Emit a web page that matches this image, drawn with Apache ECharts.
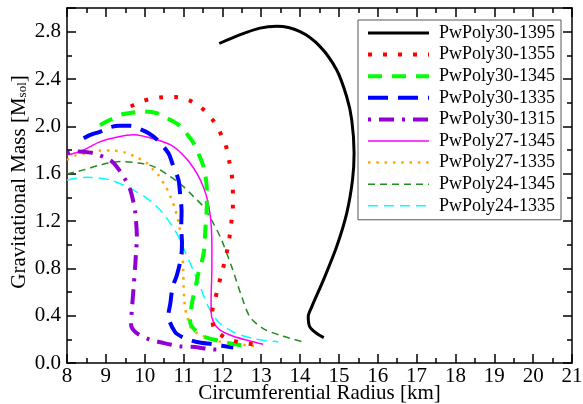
<!DOCTYPE html>
<html>
<head>
<meta charset="utf-8">
<script src="https://cdn.jsdelivr.net/npm/echarts@6/dist/echarts.min.js"></script>
<style>html,body{margin:0;padding:0;background:#fff}#c{width:583px;height:404px}</style>
</head>
<body>
<div id="c"></div>
<script>
const seriesNames = ['PwPoly30-1395','PwPoly30-1355','PwPoly30-1345','PwPoly30-1335','PwPoly30-1315','PwPoly27-1345','PwPoly27-1335','PwPoly24-1345','PwPoly24-1335'];
const xTicks = [8,9,10,11,12,13,14,15,16,17,18,19,20,21];
const yTicks = [0.0,0.4,0.8,1.2,1.6,2.0,2.4,2.8];

const pw30_1395 = [[11.92,2.70],[12.46,2.775],[12.97,2.83],[13.40,2.845],[14.0,2.80],[14.51,2.676],[14.94,2.478],[15.20,2.25],[15.33,2.055],[15.39,1.773],[15.35,1.547],[15.20,1.265],[14.94,0.982],[14.60,0.70],[14.30,0.474],[14.21,0.39],[14.25,0.305],[14.43,0.249],[14.61,0.215]];
const pw30_1355 = [[9.64,2.168],[9.99,2.218],[10.39,2.244],[10.78,2.247],[11.16,2.218],[11.49,2.148],[11.75,2.055],[11.95,1.942],[12.10,1.824],[12.18,1.70],[12.25,1.57],[12.27,1.443],[12.27,1.313],[12.23,1.186],[12.18,1.058],[12.11,0.931],[12.02,0.804],[11.92,0.681],[11.83,0.559],[11.74,0.43],[11.77,0.305],[12.04,0.22],[12.41,0.178],[12.80,0.157]];
const pw30_1345 = [[8.85,2.01],[9.11,2.055],[9.37,2.097],[9.71,2.117],[9.97,2.125],[10.31,2.112],[10.57,2.07],[10.87,2.013],[11.04,1.956],[11.26,1.858],[11.38,1.773],[11.53,1.64],[11.60,1.46],[11.60,1.32],[11.57,1.18],[11.55,1.053],[11.53,0.954],[11.47,0.855],[11.38,0.757],[11.32,0.658],[11.25,0.559],[11.19,0.446],[11.17,0.347],[11.30,0.277],[11.55,0.22],[11.86,0.192],[12.15,0.169],[12.5,0.15]];
const pw30_1335 = [[8.43,1.90],[8.60,1.928],[8.86,1.956],[9.11,1.993],[9.35,2.004],[9.63,2.004],[9.88,1.976],[10.10,1.942],[10.31,1.89],[10.61,1.773],[10.71,1.688],[10.87,1.547],[10.91,1.434],[10.95,1.279],[10.94,1.15],[10.96,1.011],[10.94,0.90],[10.83,0.743],[10.72,0.643],[10.66,0.503],[10.61,0.404],[10.78,0.262],[11.0,0.215],[11.34,0.178],[11.77,0.158],[12.28,0.13]];
const pw30_1315 = [[8.0,1.773],[8.26,1.787],[8.56,1.78],[8.81,1.759],[9.16,1.702],[9.34,1.632],[9.50,1.55],[9.63,1.462],[9.71,1.358],[9.76,1.265],[9.80,1.053],[9.78,0.95],[9.76,0.842],[9.71,0.616],[9.67,0.45],[9.65,0.33],[9.76,0.262],[10.12,0.198],[10.40,0.175],[10.91,0.141],[11.30,0.135],[11.69,0.116],[11.96,0.113]];
const pw27_1345 = [[8.0,1.759],[8.34,1.787],[8.86,1.871],[9.3,1.91],[9.71,1.928],[10.31,1.886],[10.74,1.829],[11.17,1.688],[11.51,1.49],[11.68,1.265],[11.73,0.982],[11.73,0.813],[11.71,0.531],[11.71,0.432],[11.77,0.347],[11.94,0.277],[12.28,0.226],[12.71,0.186],[13.05,0.158]];
const pw27_1335 = [[8.0,1.716],[8.21,1.753],[8.56,1.778],[8.86,1.795],[9.20,1.795],[9.50,1.778],[9.80,1.736],[10.06,1.688],[10.21,1.637],[10.37,1.581],[10.50,1.511],[10.61,1.448],[10.70,1.378],[10.78,1.304],[10.84,1.231],[10.89,1.158],[10.93,1.075],[10.96,1.003],[10.99,0.80],[11.0,0.672],[11.02,0.531],[11.04,0.46],[11.10,0.39],[11.15,0.319],[11.34,0.254],[11.86,0.186],[12.24,0.169],[12.61,0.15],[12.85,0.143]];
const pw24_1345 = [[8.0,1.598],[8.43,1.632],[8.86,1.674],[9.37,1.702],[9.88,1.688],[10.23,1.66],[10.66,1.575],[11.0,1.49],[11.26,1.406],[11.51,1.321],[11.77,1.18],[11.98,1.039],[12.24,0.813],[12.50,0.559],[12.71,0.39],[13.05,0.291],[13.57,0.226],[14.08,0.178]];
const pw24_1335 = [[8.0,1.547],[8.51,1.57],[9.11,1.547],[9.54,1.49],[10.06,1.392],[10.40,1.293],[10.66,1.18],[10.87,1.067],[11.0,0.969],[11.21,0.813],[11.43,0.643],[11.64,0.474],[11.90,0.347],[12.28,0.262],[12.80,0.206],[13.44,0.178]];

const seriesData = [pw30_1395,pw30_1355,pw30_1345,pw30_1335,pw30_1315,pw27_1345,pw27_1335,pw24_1345,pw24_1335];
const colors = ['#000000','#ff0000','#00ff00','#0000ff','#9400d3','#ff00ff','#ffa500','#228b22','#00ffff'];
const widths = [3,4,4,4,4,1.5,2.5,1.5,1.5];
const dashes = ['solid',[4,11],[14,10],[20,10],[3,8,15,8],'solid',[2.5,5.8],[7,5],[10,6]];

const FONT = 'Liberation Serif';
const chart = echarts.init(document.getElementById('c'), null, {renderer:'canvas'});

const axisCommon = {
  min: 8, max: 21, interval: 1,
  axisLine: {show: true, onZero: false, lineStyle: {color: '#000', width: 1.5}},
  axisTick: {show: true, inside: true, length: 9, lineStyle: {color: '#000', width: 1.5}},
  minorTick: {show: true, splitNumber: 2, length: 5, lineStyle: {color: '#000', width: 1.5}},
  splitLine: {show: false}
};
const yMajor = {
  type: 'value', min: 0, max: 3.0, interval: 0.4,
  axisLine: {show: true, onZero: false, lineStyle: {color: '#000', width: 1.5}},
  axisTick: {show: true, inside: true, length: 9, lineStyle: {color: '#000', width: 1.5}},
  splitLine: {show: false}
};
const yMinor = {
  type: 'value', min: 0, max: 3.0, interval: 0.2, offset: 0,
  axisLine: {show: false},
  axisTick: {show: true, inside: true, length: 5, lineStyle: {color: '#000', width: 1.5}},
  axisLabel: {show: false},
  splitLine: {show: false}
};

const option = {
  animation: false,
  backgroundColor: '#fff',
  grid: {left: 67, right: 11, top: 8, bottom: 41, containLabel: false, outerBoundsMode: 'none'},
  legend: {
    orient: 'vertical', left: 358, top: 20,
    padding: [3, 6, 4, 8],
    itemWidth: 61, itemHeight: 20, itemGap: 1.6,
    borderColor: '#555', borderWidth: 1, backgroundColor: '#fff',
    data: seriesNames,
    itemStyle: {opacity: 0, borderWidth: 0},
    lineStyle: {width: 'inherit', type: 'inherit', opacity: 1},
    textStyle: {fontFamily: FONT, fontSize: 18, color: '#000', lineHeight: 20, padding: [0,0,0,5]}
  },
  xAxis: [
    Object.assign({type: 'value', position: 'bottom',
      name: 'Circumferential Radius [km]', nameLocation: 'middle', nameGap: 20, nameMoveOverlap: false,
      nameTextStyle: {fontFamily: FONT, fontSize: 21, color: '#000'},
      axisLabel: {show: true, margin: 3, fontFamily: FONT, fontSize: 21, color: '#000',
        formatter: v => xTicks.indexOf(v) >= 0 ? String(v) : ''}}, axisCommon),
    Object.assign({type: 'value', position: 'top', axisLabel: {show: false}}, axisCommon)
  ],
  yAxis: [
    Object.assign({}, yMajor, {position: 'left', offset: 0,
      axisLabel: {show: true, margin: 6, fontFamily: FONT, fontSize: 21, color: '#000',
        formatter: v => { const t = yTicks.find(k => Math.abs(k - v) < 1e-6); return t === undefined ? '' : t.toFixed(1); }}}),
    Object.assign({}, yMinor, {position: 'left'}),
    Object.assign({}, yMajor, {position: 'right', offset: 0, axisLabel: {show: false}}),
    Object.assign({}, yMinor, {position: 'right'})
  ],
  graphic: [{
    type: 'text', x: 19, y: 182, rotation: Math.PI / 2,
    style: {
      text: 'Gravitational Mass [M{sub|sol}]',
      fontFamily: FONT, fontSize: 21, fill: '#000',
      align: 'center', verticalAlign: 'middle',
      rich: {sub: {fontFamily: FONT, fontSize: 13, verticalAlign: 'bottom', lineHeight: 13, fill: '#000'}}
    }
  }],
  series: seriesNames.map((n, i) => ({
    name: n, type: 'line', xAxisIndex: 0, yAxisIndex: 0,
    data: seriesData[i], showSymbol: false, symbol: 'none', smooth: 0.3,
    lineStyle: {color: colors[i], width: widths[i], type: dashes[i], cap: 'butt'},
    itemStyle: {color: colors[i]},
    z: 10 - i
  }))
};
chart.setOption(option);
</script>
</body>
</html>
